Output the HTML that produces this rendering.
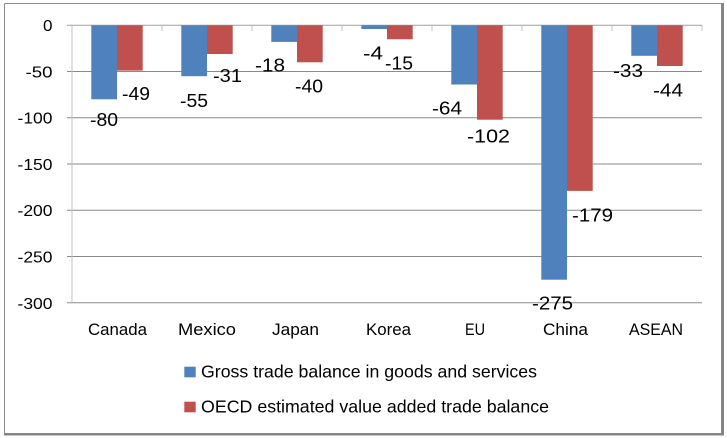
<!DOCTYPE html>
<html><head><meta charset="utf-8"><style>
html,body{margin:0;padding:0;background:#fff;}
svg{display:block;}
text{font-family:"Liberation Sans",sans-serif;fill:#000;}
</style></head><body>
<svg width="727" height="438" viewBox="0 0 727 438" xmlns="http://www.w3.org/2000/svg">
<rect x="0" y="0" width="727" height="438" fill="#fff"/>
<!-- chart border -->
<line x1="4.5" y1="3.5" x2="722" y2="3.5" stroke="#8c8c8c" stroke-width="1"/>
<line x1="4.5" y1="3.5" x2="4.5" y2="434" stroke="#8c8c8c" stroke-width="1"/>
<rect x="721" y="3" width="3" height="432.5" fill="#858585"/>
<rect x="4" y="433" width="720" height="2.5" fill="#858585"/>
<!-- gridlines -->
<g stroke="#8a8a8a" stroke-width="1">
<line x1="67" y1="71.5" x2="702" y2="71.5"/>
<line x1="67" y1="117.8" x2="702" y2="117.8"/>
<line x1="67" y1="164" x2="702" y2="164"/>
<line x1="67" y1="210.3" x2="702" y2="210.3"/>
<line x1="67" y1="256.5" x2="702" y2="256.5"/>
<line x1="67" y1="302.8" x2="702" y2="302.8"/>
</g>
<!-- y axis -->
<line x1="72" y1="25.3" x2="72" y2="302.8" stroke="#c0c0c0" stroke-width="1"/>
<!-- x axis at 0 -->
<line x1="67" y1="25.3" x2="702" y2="25.3" stroke="#a0a0a0" stroke-width="1"/>
<g stroke="#c0c0c0" stroke-width="1">
<line x1="72" y1="25.3" x2="72" y2="31"/>
<line x1="162" y1="25.3" x2="162" y2="31"/>
<line x1="252" y1="25.3" x2="252" y2="31"/>
<line x1="342" y1="25.3" x2="342" y2="31"/>
<line x1="432" y1="25.3" x2="432" y2="31"/>
<line x1="522" y1="25.3" x2="522" y2="31"/>
<line x1="612" y1="25.3" x2="612" y2="31"/>
<line x1="702" y1="25.3" x2="702" y2="31"/>
</g>
<!-- bars blue -->
<g fill="#4f81bd">
<rect x="91.3" y="25.3" width="25.7" height="74"/>
<rect x="181.3" y="25.3" width="25.7" height="50.9"/>
<rect x="271.3" y="25.3" width="25.7" height="16.6"/>
<rect x="361.3" y="25.3" width="25.7" height="3.7"/>
<rect x="451.3" y="25.3" width="25.7" height="59.2"/>
<rect x="541.3" y="25.3" width="25.7" height="254.4"/>
<rect x="631.3" y="25.3" width="25.7" height="30.5"/>
</g>
<!-- bars red -->
<g fill="#c0504d">
<rect x="117" y="25.3" width="25.7" height="45.3"/>
<rect x="207" y="25.3" width="25.7" height="28.7"/>
<rect x="297" y="25.3" width="25.7" height="37"/>
<rect x="387" y="25.3" width="25.7" height="13.9"/>
<rect x="477" y="25.3" width="25.7" height="94.4"/>
<rect x="567" y="25.3" width="25.7" height="165.6"/>
<rect x="657" y="25.3" width="25.7" height="40.7"/>
</g>
<!-- y tick labels -->
<g font-size="16" text-anchor="end">
<text x="52.5" y="31" textLength="9.5" lengthAdjust="spacingAndGlyphs">0</text>
<text x="52.5" y="77.3" textLength="27" lengthAdjust="spacingAndGlyphs">-50</text>
<text x="52.5" y="123.6" textLength="35" lengthAdjust="spacingAndGlyphs">-100</text>
<text x="52.5" y="169.8" textLength="35" lengthAdjust="spacingAndGlyphs">-150</text>
<text x="52.5" y="216.1" textLength="35" lengthAdjust="spacingAndGlyphs">-200</text>
<text x="52.5" y="262.3" textLength="35" lengthAdjust="spacingAndGlyphs">-250</text>
<text x="52.5" y="308.8" textLength="35" lengthAdjust="spacingAndGlyphs">-300</text>
</g>
<!-- category labels -->
<g font-size="17" text-anchor="middle">
<text x="117.5" y="335" textLength="59" lengthAdjust="spacingAndGlyphs">Canada</text>
<text x="207" y="335" textLength="58" lengthAdjust="spacingAndGlyphs">Mexico</text>
<text x="295.5" y="335" textLength="47" lengthAdjust="spacingAndGlyphs">Japan</text>
<text x="388.5" y="335" textLength="45" lengthAdjust="spacingAndGlyphs">Korea</text>
<text x="475" y="335" textLength="20" lengthAdjust="spacingAndGlyphs">EU</text>
<text x="565.5" y="335" textLength="45" lengthAdjust="spacingAndGlyphs">China</text>
<text x="656" y="335" textLength="54" lengthAdjust="spacingAndGlyphs">ASEAN</text>
</g>
<!-- data labels -->
<g font-size="18" text-anchor="middle">
<text x="104" y="126" textLength="28" lengthAdjust="spacingAndGlyphs">-80</text>
<text x="136" y="100" textLength="28" lengthAdjust="spacingAndGlyphs">-49</text>
<text x="194" y="107" textLength="28" lengthAdjust="spacingAndGlyphs">-55</text>
<text x="227.5" y="82" textLength="29" lengthAdjust="spacingAndGlyphs">-31</text>
<text x="270" y="71.5" textLength="30" lengthAdjust="spacingAndGlyphs">-18</text>
<text x="309" y="92.5" textLength="28" lengthAdjust="spacingAndGlyphs">-40</text>
<text x="373" y="59.5" textLength="20" lengthAdjust="spacingAndGlyphs">-4</text>
<text x="399" y="69.5" textLength="28" lengthAdjust="spacingAndGlyphs">-15</text>
<text x="447" y="114.5" textLength="30" lengthAdjust="spacingAndGlyphs">-64</text>
<text x="488.5" y="142.5" textLength="43" lengthAdjust="spacingAndGlyphs">-102</text>
<text x="592.5" y="221.5" textLength="41" lengthAdjust="spacingAndGlyphs">-179</text>
<text x="552.5" y="309.5" textLength="41" lengthAdjust="spacingAndGlyphs">-275</text>
<text x="628" y="77" textLength="30" lengthAdjust="spacingAndGlyphs">-33</text>
<text x="668" y="96.5" textLength="30" lengthAdjust="spacingAndGlyphs">-44</text>
</g>
<!-- legend -->
<rect x="184.3" y="366.7" width="11.4" height="10.6" fill="#4f81bd"/>
<rect x="184.3" y="401.7" width="11.4" height="10.6" fill="#c0504d"/>
<g font-size="17.5">
<text x="201" y="377.6" textLength="336" lengthAdjust="spacingAndGlyphs">Gross trade balance in goods and services</text>
<text x="201" y="412.5" textLength="348" lengthAdjust="spacingAndGlyphs">OECD estimated value added trade balance</text>
</g>
</svg>
</body></html>
